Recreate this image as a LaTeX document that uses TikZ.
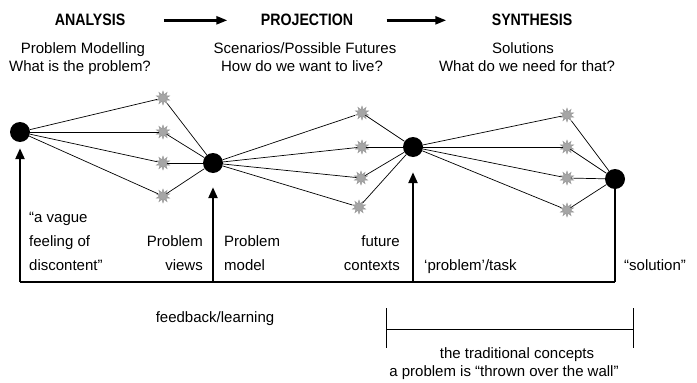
\documentclass[tikz,border=0pt]{standalone}
\usepackage{fontspec}
\setmainfont{Liberation Sans}
\newfontfamily\headfont[FakeStretch=0.86]{Liberation Sans}
\usetikzlibrary{arrows.meta,shapes.geometric}

\begin{document}
\begin{tikzpicture}[
  x=1pt, y=-1pt,
  hub/.style={circle, fill=black, minimum size=20pt, inner sep=0pt},
  seed/.style={star, star points=10, star point ratio=2.0, fill=gray!70,
    draw=gray!85, line width=0.4pt, minimum size=14pt, inner sep=0pt},
  link/.style={line width=0.7pt},
  heading/.style={font=\headfont\bfseries\fontsize{16.5}{18}\selectfont, anchor=base},
  txt/.style={font=\fontsize{15}{18}\selectfont, anchor=base, inner sep=0pt},
  stagearrow/.style={line width=2.4pt, -{Triangle[length=11pt,width=8pt]}},
  uparrow/.style={line width=2.4pt, -{Triangle[length=11pt,width=9pt]}},
  stem/.style={line width=2.4pt},
  loopline/.style={line width=2pt},
  bracket/.style={line width=0.6pt}
]
\useasboundingbox (0,0) rectangle (697,383);

% stage headings
\node[heading] (ana) at (90,25) {ANALYSIS};
\node[heading] (pro) at (307,25) {PROJECTION};
\node[heading] (syn) at (532,25) {SYNTHESIS};
\draw[stagearrow, shorten <=35pt, shorten >=30pt] ([yshift=-1pt]ana.east) -- ([yshift=-1pt]pro.west);
\draw[stagearrow, shorten <=30pt, shorten >=42pt] ([yshift=-1pt]pro.east) -- ([yshift=-1pt]syn.west);

% stage descriptions
\node[txt] (t1a) at (83,53) {Problem Modelling};
\node[txt] (t1b) at (80,71) {What is the problem?};
\node[txt] (t2a) at (305,53) {Scenarios/Possible Futures};
\node[txt] (t2b) at (302,71) {How do we want to live?};
\node[txt] (t3a) at (523,53) {Solutions};
\node[txt] (t3b) at (527,71) {What do we need for that?};

% main states
\node[hub] (A) at (20,132) {};
\node[hub] (B) at (213,163) {};
\node[hub] (C) at (413,147) {};
\node[hub] (D) at (615,179) {};

% intermediate variants
\node[seed] (p1) at (163,98) {};
\node[seed] (p2) at (163,132) {};
\node[seed] (p3) at (163,163) {};
\node[seed] (p4) at (163,196) {};
\node[seed] (q1) at (362,113) {};
\node[seed] (q2) at (362,147) {};
\node[seed] (q3) at (361,178) {};
\node[seed] (q4) at (359,207) {};
\node[seed] (r1) at (567,115) {};
\node[seed] (r2) at (567,147) {};
\node[seed] (r3) at (567,178) {};
\node[seed] (r4) at (567,210) {};

\foreach \n in {p1,p2,p3,p4} { \draw[link] (A) -- (\n); \draw[link] (\n) -- (B); }
\foreach \n in {q1,q2,q3,q4} { \draw[link] (B) -- (\n); \draw[link] (\n) -- (C); }
\foreach \n in {r1,r2,r3,r4} { \draw[link] (C) -- (\n); \draw[link] (\n) -- (D); }

% feedback loop
\coordinate (fa) at (20,282);
\coordinate (fb) at (213,282);
\coordinate (fc) at (413,282);
\coordinate (fd) at (615,282);
\draw[loopline] (fa) -- (fd);
\draw[stem] (fd) -- (D.center);
\draw[uparrow, shorten >=6pt] (fa) -- (A.south);
\draw[uparrow, shorten >=14pt] (fb) -- (B.south);
\draw[uparrow, shorten >=15pt] (fc) -- (C.south);

% labels along the loop
\node[txt, anchor=base west] (l1) at (29,222) {``a vague};
\node[txt, anchor=base west] (l2) at (29,246) {feeling of};
\node[txt, anchor=base west] (l3) at (29,270) {discontent''};
\node[txt, anchor=base east] (l4) at (203,246) {Problem};
\node[txt, anchor=base east] (l5) at (203,270) {views};
\node[txt, anchor=base west] (l6) at (224,246) {Problem};
\node[txt, anchor=base west] (l7) at (224,270) {model};
\node[txt, anchor=base east] (l8) at (400,246) {future};
\node[txt, anchor=base east] (l9) at (400,270) {contexts};
\node[txt, anchor=base west] (l10) at (424,270) {`problem'/task};
\node[txt, anchor=base west] (l11) at (624,270) {``solution''};
\node[txt] (fbk) at (215,322) {feedback/learning};

% span of the traditional concepts
\coordinate (b1t) at (386,308);
\coordinate (b1b) at (386,348);
\coordinate (b2t) at (633,308);
\coordinate (b2b) at (633,348);
\coordinate (b1m) at (386,329);
\coordinate (b2m) at (633,329);
\draw[bracket] (b1t) -- (b1b);
\draw[bracket] (b2t) -- (b2b);
\draw[bracket] (b1m) -- (b2m);
\node[txt] (c1) at (517,358) {the traditional concepts};
\node[txt] (c2) at (504,376) {a problem is ``thrown over the wall''};
\end{tikzpicture}
\end{document}
